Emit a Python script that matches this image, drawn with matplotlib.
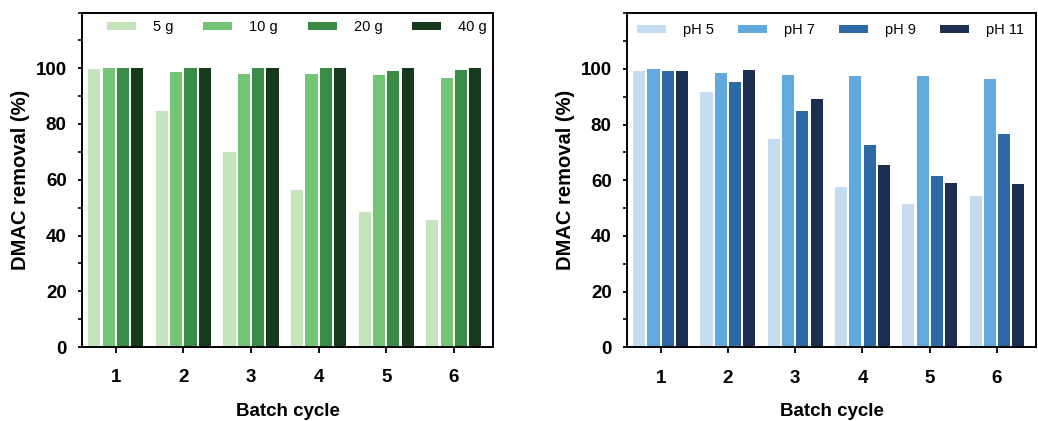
import matplotlib
matplotlib.use("Agg")
import matplotlib.pyplot as plt
import numpy as np
from matplotlib.ticker import MultipleLocator

plt.rcParams['font.family'] = ['Liberation Sans', 'DejaVu Sans']

cycles = [1, 2, 3, 4, 5, 6]

# Adsorbent dosage series
dose_labels = ['5 g', '10 g', '20 g', '40 g']
dose_5g = [99.7, 84.7, 69.8, 56.3, 48.6, 45.4]
dose_10g = [100.0, 98.7, 98.0, 97.8, 97.6, 96.4]
dose_20g = [100.0, 100.0, 100.0, 100.0, 99.0, 99.5]
dose_40g = [100.0, 100.0, 100.0, 100.0, 100.0, 100.0]
dose_colors = ['#c4e4bb', '#74c476', '#3a8b46', '#173a1e']

# pH series
ph_labels = ['pH 5', 'pH 7', 'pH 9', 'pH 11']
ph_5 = [99.3, 91.7, 74.7, 57.5, 51.4, 54.3]
ph_7 = [99.9, 98.6, 97.8, 97.6, 97.4, 96.3]
ph_9 = [99.3, 95.3, 84.8, 72.7, 61.6, 76.8]
ph_11 = [99.3, 99.5, 89.3, 65.6, 59.2, 58.8]
ph_colors = ['#c5dcf0', '#62a9dd', '#2d69a5', '#1c2f53']

W, H = 1038, 421
fig = plt.figure(figsize=(W / 100, H / 100), dpi=100)

ax1 = fig.add_axes([82 / W, 1 - 347 / H, (493 - 82) / W, (347 - 12.5) / H])
ax2 = fig.add_axes([627 / W, 1 - 347.3 / H, (1036 - 627) / W, (347.3 - 13.3) / H])


def draw_panel(ax, series, labels, colors, leg_x0, leg_x1, leg_y):
    x = np.array(cycles, dtype=float)
    step = 0.212
    width = 0.18
    offsets = (np.arange(len(series)) - (len(series) - 1) / 2) * step
    for vals, lab, col, off in zip(series, labels, colors, offsets):
        ax.bar(x + off, vals, width=width, color=col, label=lab, linewidth=0)

    ax.set_xlim(0.5, 6.58)
    ax.set_ylim(0, 120)
    ax.set_xticks(cycles)
    ax.set_yticks([0, 20, 40, 60, 80, 100])
    ax.yaxis.set_minor_locator(MultipleLocator(10))
    for sp in ax.spines.values():
        sp.set_linewidth(1.4)
    ax.tick_params(axis='both', which='major', direction='out', width=1.3,
                   labelsize=13.5)
    ax.tick_params(axis='x', which='major', length=4, pad=12)
    ax.tick_params(axis='y', which='major', length=3, pad=8)
    ax.tick_params(axis='y', which='minor', direction='out', length=3, width=1.2)
    ax.tick_params(top=False, right=False, which='both')
    for lbl in ax.get_xticklabels() + ax.get_yticklabels():
        lbl.set_fontweight('bold')

    ax.set_xlabel('Batch cycle', fontsize=13.5, fontweight='bold', labelpad=12)
    ax.set_ylabel('DMAC removal (%)', fontsize=14.5, fontweight='bold', labelpad=4)

    ax.legend(loc='center', bbox_to_anchor=(leg_x0, leg_y, leg_x1 - leg_x0, 0),
              mode='expand', ncol=4, frameon=False, fontsize=10.5,
              handlelength=2.0, handleheight=0.48, handletextpad=1.15,
              borderpad=0, borderaxespad=0)


draw_panel(ax1, [dose_5g, dose_10g, dose_20g, dose_40g], dose_labels,
           dose_colors, 0.061, 0.985, 0.957)
draw_panel(ax2, [ph_5, ph_7, ph_9, ph_11], ph_labels,
           ph_colors, 0.024, 0.97, 0.95)

fig.savefig('out.png', dpi=100)
